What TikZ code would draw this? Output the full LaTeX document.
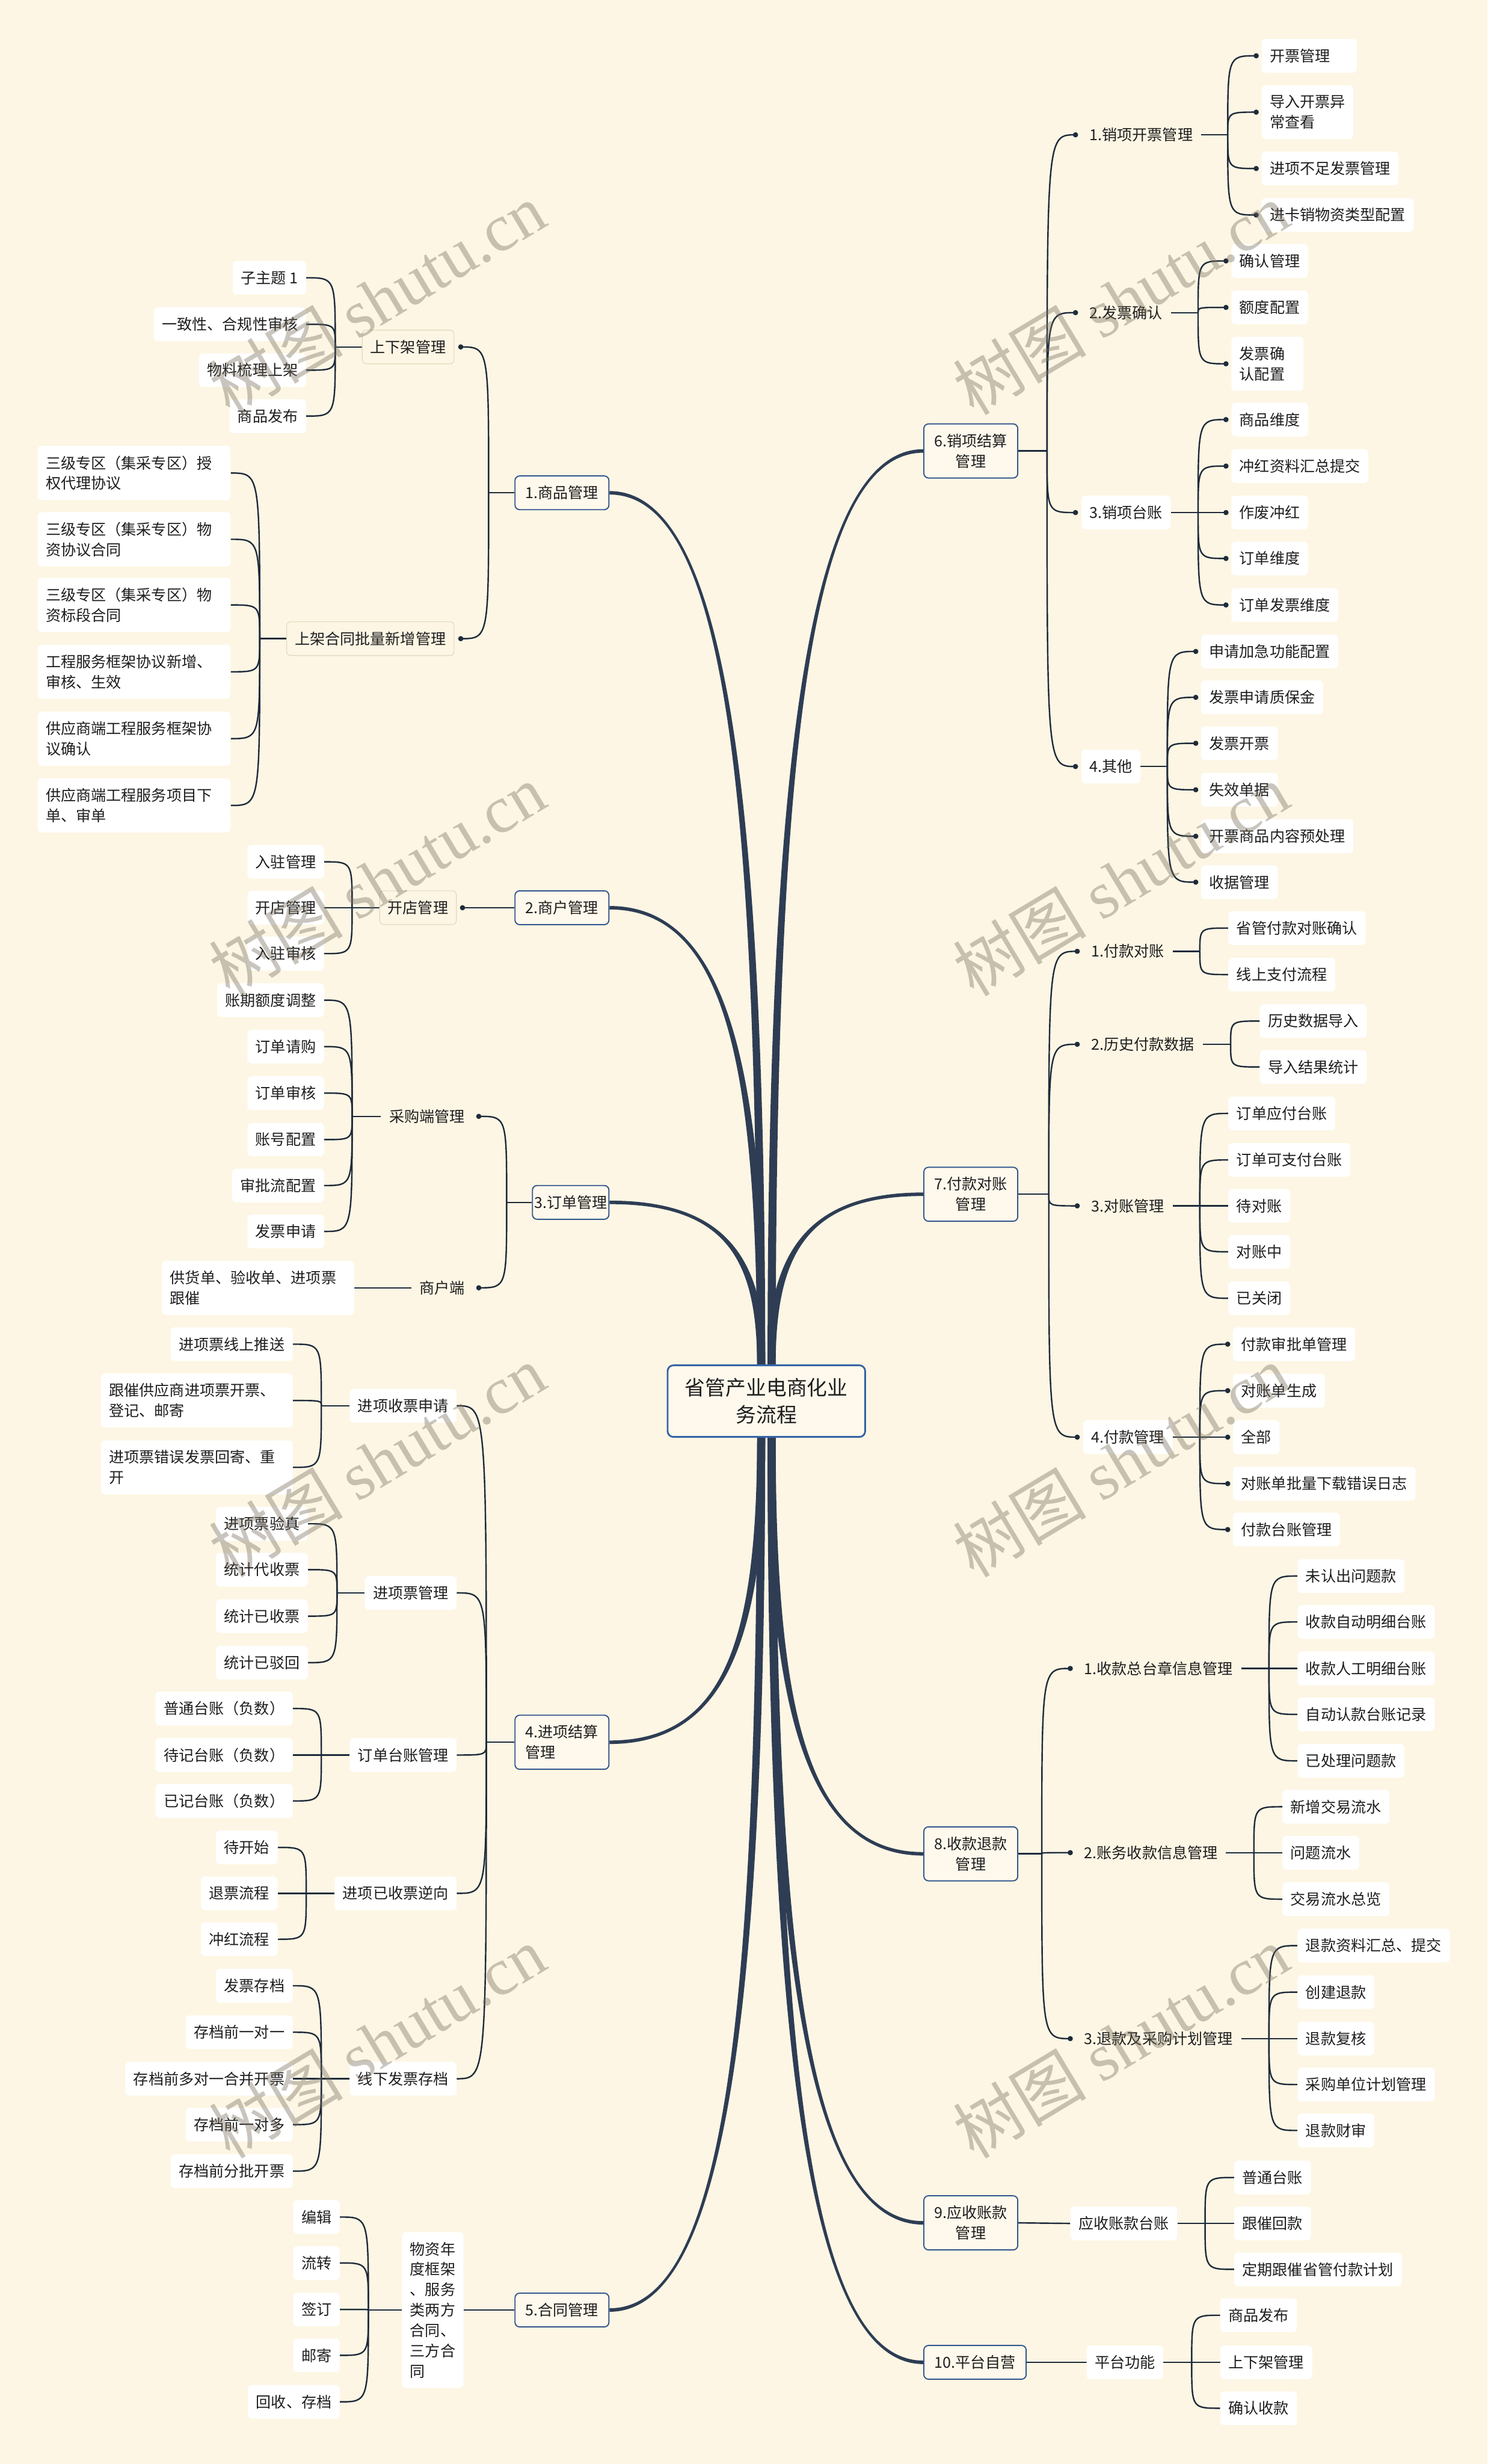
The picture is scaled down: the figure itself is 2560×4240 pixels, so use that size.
\documentclass[tikz,border=0pt]{standalone}
\usepackage{fontspec}
\setmainfont{Noto Sans CJK SC}
\newfontfamily\wmlat{Liberation Serif}
\usetikzlibrary{calc}
\pgfdeclarelayer{back}
\pgfdeclarelayer{lines}
\pgfsetlayers{back,lines,main}
\definecolor{bgc}{HTML}{FDF6E4}
\definecolor{lc}{HTML}{1F2B3B}
\definecolor{brc}{HTML}{2E3D54}
\definecolor{lvlb}{HTML}{35588F}
\definecolor{lvlf}{HTML}{FEF9EC}
\definecolor{ctrb}{HTML}{3563A8}
\definecolor{subb}{HTML}{E3D8BF}
\definecolor{txtc}{HTML}{1E1E1E}
\definecolor{wmc}{HTML}{786F5E}
\tikzset{
 base/.style={font=\fontsize{26}{35}\selectfont, text=txtc, inner xsep=14pt, inner ysep=17pt, align=left},
 leaf/.style={base, fill=white, rounded corners=7pt},
 plain/.style={base},
 sub/.style={base, fill=bgc, draw=subb, line width=1.2pt, rounded corners=7pt},
 lvl/.style={base, fill=lvlf, draw=lvlb, line width=2pt, rounded corners=8pt, inner xsep=18pt, align=center},
 ctrs/.style={font=\fontsize{35}{47}\selectfont, text=txtc, fill=lvlf, draw=ctrb, line width=3pt, rounded corners=10pt, inner xsep=30pt, inner ysep=22pt, align=center},
 ln/.style={draw=lc, line width=2.5pt},
 wm/.style={font=\fontsize{115}{115}\selectfont, text=wmc, opacity=0.4, rotate=31},
}
\newcommand\cvl[2]{\draw[ln] (#1) .. controls (#1 |- #2) and (#1 |- #2) .. (#2);}
\newcommand\mdot[1]{\fill[lc] (#1) circle[radius=4.5pt];}
\newcommand\thickbr[4]{%
 \fill[brc] let \p1=(#1), \p2=(#2) in
 (\x1,{\y1+(#3)*3pt}) .. controls ({\x1+0.75*\x2-0.75*\x1},{\y1+(#3)*3pt}) and ({\x2+(#4)*7pt},{\y1+0.33*\y2-0.33*\y1}) .. ({\x2+(#4)*7pt},\y2)
 -- ({\x2-(#4)*7pt},\y2) .. controls ({\x2-(#4)*7pt},{\y1+0.33*\y2-0.33*\y1}) and ({\x1+0.75*\x2-0.75*\x1},{\y1-(#3)*3pt}) .. (\x1,{\y1-(#3)*3pt}) -- cycle;}
\begin{document}
\begin{tikzpicture}[x=1pt,y=-1pt]
\begin{pgfonlayer}{back}
\fill[bgc] (0,0) rectangle (2560,4240);
\end{pgfonlayer}
\useasboundingbox (0,0) rectangle (2560,4240);

% ---------- centre ----------
\node[ctrs] (ctr) at (1319,2411) {省管产业电商化业\\务流程};
\coordinate (cTL) at ([xshift=-9pt]ctr.north);
\coordinate (cTR) at ([xshift=9pt]ctr.north);
\coordinate (cBL) at ([xshift=-9pt]ctr.south);
\coordinate (cBR) at ([xshift=9pt]ctr.south);

% ---------- level 1 ----------
\node[lvl, anchor=east] (L1) at (1049,848) {1.商品管理};
\node[lvl, anchor=east] (L2) at (1049,1562) {2.商户管理};
\node[lvl, anchor=east, inner xsep=3pt] (L3) at (1049,2069) {3.订单管理};
\node[lvl, anchor=east, align=left] (L4) at (1049,2998) {4.进项结算\\管理};
\node[lvl, anchor=east] (L5) at (1049,3975) {5.合同管理};
\node[lvl, anchor=west] (R6) at (1589,776) {6.销项结算\\管理};
\node[lvl, anchor=west] (R7) at (1589,2055) {7.付款对账\\管理};
\node[lvl, anchor=west] (R8) at (1589,3190) {8.收款退款\\管理};
\node[lvl, anchor=west] (R9) at (1589,3825) {9.应收账款\\管理};
\node[lvl, anchor=west] (R10) at (1589,4065) {10.平台自营};

% ---------- level 2 left ----------
\node[sub, anchor=east] (A1) at (782,597) {上下架管理};
\node[sub, anchor=east] (A2) at (782,1099) {上架合同批量新增管理};
\node[sub, anchor=east] (B1) at (786,1562) {开店管理};
\node[plain, anchor=east] (C1) at (814,1921) {采购端管理};
\node[plain, anchor=east] (C2) at (814,2216) {商户端};
\node[leaf, anchor=east] (D1) at (786,2419) {进项收票申请};
\node[leaf, anchor=east] (D2) at (786,2741) {进项票管理};
\node[leaf, anchor=east] (D3) at (786,3020) {订单台账管理};
\node[leaf, anchor=east] (D4) at (786,3258) {进项已收票逆向};
\node[leaf, anchor=east] (D5) at (786,3577) {线下发票存档};
\node[leaf, anchor=east] (E1) at (798,3975) {物资年\\度框架\\、服务\\类两方\\合同、\\三方合\\同};

% ---------- level 2 right ----------
\node[plain, anchor=west] (S1) at (1861,232) {1.销项开票管理};
\node[plain, anchor=west] (S2) at (1861,538) {2.发票确认};
\node[leaf, anchor=west] (S3) at (1861,882) {3.销项台账};
\node[leaf, anchor=west] (S4) at (1861,1319) {4.其他};
\node[plain, anchor=west] (T1) at (1864,1637) {1.付款对账};
\node[plain, anchor=west] (T2) at (1864,1797) {2.历史付款数据};
\node[plain, anchor=west] (T3) at (1864,2075) {3.对账管理};
\node[leaf, anchor=west] (T4) at (1864,2473) {4.付款管理};
\node[plain, anchor=west] (U1) at (1852,2871) {1.收款总台章信息管理};
\node[plain, anchor=west] (U2) at (1852,3188) {2.账务收款信息管理};
\node[plain, anchor=west] (U3) at (1852,3508) {3.退款及采购计划管理};
\node[leaf, anchor=west] (V1) at (1842,3826) {应收账款台账};
\node[leaf, anchor=west] (W1) at (1870,4065) {平台功能};

% ---------- leaves left ----------
\node[leaf, anchor=east] (a11) at (527,478) {子主题 1};
\node[leaf, anchor=east] (a12) at (527,558) {一致性、合规性审核};
\node[leaf, anchor=east] (a13) at (527,637) {物料梳理上架};
\node[leaf, anchor=east] (a14) at (527,716) {商品发布};
\node[leaf, anchor=east, text width=304pt] (a21) at (397,814) {三级专区（集采专区）授\\权代理协议};
\node[leaf, anchor=east, text width=304pt] (a22) at (397,928) {三级专区（集采专区）物\\资协议合同};
\node[leaf, anchor=east, text width=304pt] (a23) at (397,1041) {三级专区（集采专区）物\\资标段合同};
\node[leaf, anchor=east, text width=304pt] (a24) at (397,1156) {工程服务框架协议新增、\\审核、生效};
\node[leaf, anchor=east, text width=304pt] (a25) at (397,1271) {供应商端工程服务框架协\\议确认};
\node[leaf, anchor=east, text width=304pt] (a26) at (397,1386) {供应商端工程服务项目下\\单、审单};
\node[leaf, anchor=east] (b11) at (558,1483) {入驻管理};
\node[leaf, anchor=east] (b12) at (558,1562) {开店管理};
\node[leaf, anchor=east] (b13) at (558,1641) {入驻审核};
\node[leaf, anchor=east] (c11) at (558,1721) {账期额度调整};
\node[leaf, anchor=east] (c12) at (558,1801) {订单请购};
\node[leaf, anchor=east] (c13) at (558,1881) {订单审核};
\node[leaf, anchor=east] (c14) at (558,1961) {账号配置};
\node[leaf, anchor=east] (c15) at (558,2040) {审批流配置};
\node[leaf, anchor=east] (c16) at (558,2119) {发票申请};
\node[leaf, anchor=east, text width=303pt] (c21) at (610,2216) {供货单、验收单、进项票\\跟催};
\node[leaf, anchor=east] (d11) at (504,2313) {进项票线上推送};
\node[leaf, anchor=east, text width=302pt] (d12) at (504,2410) {跟催供应商进项票开票、\\登记、邮寄};
\node[leaf, anchor=east, text width=302pt] (d13) at (504,2525) {进项票错误发票回寄、重\\开};
\node[leaf, anchor=east] (d21) at (530,2622) {进项票验真};
\node[leaf, anchor=east] (d22) at (530,2701) {统计代收票};
\node[leaf, anchor=east] (d23) at (530,2781) {统计已收票};
\node[leaf, anchor=east] (d24) at (530,2861) {统计已驳回};
\node[leaf, anchor=east] (d31) at (504,2940) {普通台账（负数）};
\node[leaf, anchor=east] (d32) at (504,3020) {待记台账（负数）};
\node[leaf, anchor=east] (d33) at (504,3099) {已记台账（负数）};
\node[leaf, anchor=east] (d41) at (478,3179) {待开始};
\node[leaf, anchor=east] (d42) at (478,3258) {退票流程};
\node[leaf, anchor=east] (d43) at (478,3337) {冲红流程};
\node[leaf, anchor=east] (d51) at (504,3417) {发票存档};
\node[leaf, anchor=east] (d52) at (504,3497) {存档前一对一};
\node[leaf, anchor=east] (d53) at (504,3577) {存档前多对一合并开票};
\node[leaf, anchor=east] (d54) at (504,3656) {存档前一对多};
\node[leaf, anchor=east] (d55) at (504,3736) {存档前分批开票};
\node[leaf, anchor=east] (e11) at (585,3815) {编辑};
\node[leaf, anchor=east] (e12) at (585,3894) {流转};
\node[leaf, anchor=east] (e13) at (585,3974) {签订};
\node[leaf, anchor=east] (e14) at (585,4053) {邮寄};
\node[leaf, anchor=east] (e15) at (585,4133) {回收、存档};

% ---------- leaves right ----------
\node[leaf, anchor=west, text width=136pt] (s11) at (2171,96) {开票管理};
\node[leaf, anchor=west] (s12) at (2171,193) {导入开票异\\常查看};
\node[leaf, anchor=west] (s13) at (2171,290) {进项不足发票管理};
\node[leaf, anchor=west] (s14) at (2171,370) {进卡销物资类型配置};
\node[leaf, anchor=west] (s21) at (2119,449) {确认管理};
\node[leaf, anchor=west] (s22) at (2119,529) {额度配置};
\node[leaf, anchor=west, text width=96pt] (s23) at (2119,626) {发票确\\认配置};
\node[leaf, anchor=west] (s31) at (2119,722) {商品维度};
\node[leaf, anchor=west] (s32) at (2119,802) {冲红资料汇总提交};
\node[leaf, anchor=west] (s33) at (2119,882) {作废冲红};
\node[leaf, anchor=west] (s34) at (2119,961) {订单维度};
\node[leaf, anchor=west] (s35) at (2119,1041) {订单发票维度};
\node[leaf, anchor=west] (s41) at (2067,1121) {申请加急功能配置};
\node[leaf, anchor=west] (s42) at (2067,1200) {发票申请质保金};
\node[leaf, anchor=west] (s43) at (2067,1279) {发票开票};
\node[leaf, anchor=west] (s44) at (2067,1359) {失效单据};
\node[leaf, anchor=west] (s45) at (2067,1439) {开票商品内容预处理};
\node[leaf, anchor=west] (s46) at (2067,1518) {收据管理};
\node[leaf, anchor=west] (t11) at (2114,1597) {省管付款对账确认};
\node[leaf, anchor=west] (t12) at (2114,1677) {线上支付流程};
\node[leaf, anchor=west] (t21) at (2168,1757) {历史数据导入};
\node[leaf, anchor=west] (t22) at (2168,1836) {导入结果统计};
\node[leaf, anchor=west] (t31) at (2114,1916) {订单应付台账};
\node[leaf, anchor=west] (t32) at (2114,1996) {订单可支付台账};
\node[leaf, anchor=west] (t33) at (2114,2075) {待对账};
\node[leaf, anchor=west] (t34) at (2114,2154) {对账中};
\node[leaf, anchor=west] (t35) at (2114,2234) {已关闭};
\node[leaf, anchor=west] (t41) at (2122,2313) {付款审批单管理};
\node[leaf, anchor=west] (t42) at (2122,2393) {对账单生成};
\node[leaf, anchor=west] (t43) at (2122,2473) {全部};
\node[leaf, anchor=west] (t44) at (2122,2553) {对账单批量下载错误日志};
\node[leaf, anchor=west] (t45) at (2122,2632) {付款台账管理};
\node[leaf, anchor=west] (u11) at (2233,2712) {未认出问题款};
\node[leaf, anchor=west] (u12) at (2233,2791) {收款自动明细台账};
\node[leaf, anchor=west] (u13) at (2233,2871) {收款人工明细台账};
\node[leaf, anchor=west] (u14) at (2233,2950) {自动认款台账记录};
\node[leaf, anchor=west] (u15) at (2233,3030) {已处理问题款};
\node[leaf, anchor=west] (u21) at (2207,3109) {新增交易流水};
\node[leaf, anchor=west] (u22) at (2207,3188) {问题流水};
\node[leaf, anchor=west] (u23) at (2207,3268) {交易流水总览};
\node[leaf, anchor=west] (u31) at (2233,3348) {退款资料汇总、提交};
\node[leaf, anchor=west] (u32) at (2233,3428) {创建退款};
\node[leaf, anchor=west] (u33) at (2233,3508) {退款复核};
\node[leaf, anchor=west] (u34) at (2233,3587) {采购单位计划管理};
\node[leaf, anchor=west] (u35) at (2233,3666) {退款财审};
\node[leaf, anchor=west] (v11) at (2124,3747) {普通台账};
\node[leaf, anchor=west] (v12) at (2124,3826) {跟催回款};
\node[leaf, anchor=west] (v13) at (2124,3905) {定期跟催省管付款计划};
\node[leaf, anchor=west] (w11) at (2100,3984) {商品发布};
\node[leaf, anchor=west] (w12) at (2100,4065) {上下架管理};
\node[leaf, anchor=west] (w13) at (2100,4144) {确认收款};

% ---------- dot coordinates ----------
\coordinate (dA1) at ([xshift=11pt]A1.east);
\coordinate (dA2) at ([xshift=11pt]A2.east);
\coordinate (dB1) at ([xshift=10pt]B1.east);
\coordinate (dC1) at ([xshift=10pt]C1.east);
\coordinate (dC2) at ([xshift=10pt]C2.east);
\foreach \n in {S1,S2,S3,S4,T1,T2,T3,T4,U1,U2,U3} {\coordinate (d\n) at ([xshift=-10pt]\n.west);}
\foreach \n in {s11,s12,s13,s14,s21,s22,s23,s31,s32,s33,s34,s35,s41,s42,s43,s44,s45,s46,t41,t42,t43,t44,t45} {\coordinate (d\n) at ([xshift=-9pt]\n.west);}

% ---------- trunk points ----------
\coordinate (L1t) at (841,848);
\coordinate (L3t) at (872,2069);
\coordinate (L4t) at (837,2998);
\coordinate (R6t) at (1802,776);
\coordinate (R7t) at (1805,2055);
\coordinate (R8t) at (1793,3190);
\coordinate (A1t) at (577,597);
\coordinate (A2t) at (447,1099);
\coordinate (B1t) at (606,1562);
\coordinate (C1t) at (606,1921);
\coordinate (D1t) at (553,2419);
\coordinate (D2t) at (580,2741);
\coordinate (D3t) at (553,3020);
\coordinate (D4t) at (527,3258);
\coordinate (D5t) at (553,3577);
\coordinate (E1t) at (634,3975);
\coordinate (S1t) at (2113,232);
\coordinate (S2t) at (2062,538);
\coordinate (S3t) at (2062,882);
\coordinate (S4t) at (2009,1319);
\coordinate (T1t) at (2065,1637);
\coordinate (T2t) at (2118,1797);
\coordinate (T3t) at (2065,2075);
\coordinate (T4t) at (2065,2473);
\coordinate (U1t) at (2184,2871);
\coordinate (U2t) at (2158,3188);
\coordinate (U3t) at (2184,3508);
\coordinate (V1t) at (2074,3826);
\coordinate (W1t) at (2051,4065);

\begin{pgfonlayer}{lines}
% thick branches from the centre
\thickbr{L1.east}{cTL}{1}{1}
\thickbr{L2.east}{cTL}{1}{1}
\thickbr{L3.east}{cTL}{1}{1}
\thickbr{L4.east}{cBL}{-1}{1}
\thickbr{L5.east}{cBL}{-1}{1}
\thickbr{R6.west}{cTR}{1}{-1}
\thickbr{R7.west}{cTR}{1}{-1}
\thickbr{R8.west}{cBR}{-1}{-1}
\thickbr{R9.west}{cBR}{-1}{-1}
\thickbr{R10.west}{cBR}{-1}{-1}

% level 1 -> level 2
\draw[ln] (L1.west) -- (L1t); \cvl{L1t}{dA1} \cvl{L1t}{dA2}
\draw[ln] (L2.west) -- (dB1);
\draw[ln] (L3.west) -- (L3t); \cvl{L3t}{dC1} \cvl{L3t}{dC2}
\draw[ln] (L4.west) -- (L4t);
\foreach \c in {D1,D2,D3,D4,D5} {\cvl{L4t}{\c.east}}
\draw[ln] (L5.west) -- (E1.east);
\draw[ln] (R6.east) -- (R6t);
\foreach \c in {S1,S2,S3,S4} {\cvl{R6t}{d\c}}
\draw[ln] (R7.east) -- (R7t);
\foreach \c in {T1,T2,T3,T4} {\cvl{R7t}{d\c}}
\draw[ln] (R8.east) -- (R8t);
\foreach \c in {U1,U2,U3} {\cvl{R8t}{d\c}}
\draw[ln] (R9.east) -- (V1.west);
\draw[ln] (R10.east) -- (W1.west);

% level 2 -> leaves (left)
\draw[ln] (A1.west) -- (A1t); \foreach \c in {a11,a12,a13,a14} {\cvl{A1t}{\c.east}}
\draw[ln] (A2.west) -- (A2t); \foreach \c in {a21,a22,a23,a24,a25,a26} {\cvl{A2t}{\c.east}}
\draw[ln] (B1.west) -- (B1t); \foreach \c in {b11,b12,b13} {\cvl{B1t}{\c.east}}
\draw[ln] (C1.west) -- (C1t); \foreach \c in {c11,c12,c13,c14,c15,c16} {\cvl{C1t}{\c.east}}
\draw[ln] (C2.west) -- (c21.east);
\draw[ln] (D1.west) -- (D1t); \foreach \c in {d11,d12,d13} {\cvl{D1t}{\c.east}}
\draw[ln] (D2.west) -- (D2t); \foreach \c in {d21,d22,d23,d24} {\cvl{D2t}{\c.east}}
\draw[ln] (D3.west) -- (D3t); \foreach \c in {d31,d32,d33} {\cvl{D3t}{\c.east}}
\draw[ln] (D4.west) -- (D4t); \foreach \c in {d41,d42,d43} {\cvl{D4t}{\c.east}}
\draw[ln] (D5.west) -- (D5t); \foreach \c in {d51,d52,d53,d54,d55} {\cvl{D5t}{\c.east}}
\draw[ln] (E1.west) -- (E1t); \foreach \c in {e11,e12,e13,e14,e15} {\cvl{E1t}{\c.east}}

% level 2 -> leaves (right)
\draw[ln] (S1.east) -- (S1t); \foreach \c in {s11,s12,s13,s14} {\cvl{S1t}{d\c}}
\draw[ln] (S2.east) -- (S2t); \foreach \c in {s21,s22,s23} {\cvl{S2t}{d\c}}
\draw[ln] (S3.east) -- (S3t); \foreach \c in {s31,s32,s33,s34,s35} {\cvl{S3t}{d\c}}
\draw[ln] (S4.east) -- (S4t); \foreach \c in {s41,s42,s43,s44,s45,s46} {\cvl{S4t}{d\c}}
\draw[ln] (T1.east) -- (T1t); \foreach \c in {t11,t12} {\cvl{T1t}{\c.west}}
\draw[ln] (T2.east) -- (T2t); \foreach \c in {t21,t22} {\cvl{T2t}{\c.west}}
\draw[ln] (T3.east) -- (T3t); \foreach \c in {t31,t32,t33,t34,t35} {\cvl{T3t}{\c.west}}
\draw[ln] (T4.east) -- (T4t); \foreach \c in {t41,t42,t43,t44,t45} {\cvl{T4t}{d\c}}
\draw[ln] (U1.east) -- (U1t); \foreach \c in {u11,u12,u13,u14,u15} {\cvl{U1t}{\c.west}}
\draw[ln] (U2.east) -- (U2t); \foreach \c in {u21,u22,u23} {\cvl{U2t}{\c.west}}
\draw[ln] (U3.east) -- (U3t); \foreach \c in {u31,u32,u33,u34,u35} {\cvl{U3t}{\c.west}}
\draw[ln] (V1.east) -- (V1t); \foreach \c in {v11,v12,v13} {\cvl{V1t}{\c.west}}
\draw[ln] (W1.east) -- (W1t); \foreach \c in {w11,w12,w13} {\cvl{W1t}{\c.west}}
\end{pgfonlayer}

% dots
\foreach \c in {dA1,dA2,dB1,dC1,dC2} {\mdot{\c}}
\foreach \c in {S1,S2,S3,S4,T1,T2,T3,T4,U1,U2,U3,s11,s12,s13,s14,s21,s22,s23,s31,s32,s33,s34,s35,s41,s42,s43,s44,s45,s46,t41,t42,t43,t44,t45} {\mdot{d\c}}

% watermarks
\node[wm] (wm1) at (649,514) {树图 {\wmlat shutu.cn}};
\node[wm] (wm2) at (1929,514) {树图 {\wmlat shutu.cn}};
\node[wm] (wm3) at (649,1514) {树图 {\wmlat shutu.cn}};
\node[wm] (wm4) at (1929,1514) {树图 {\wmlat shutu.cn}};
\node[wm] (wm5) at (649,2514) {树图 {\wmlat shutu.cn}};
\node[wm] (wm6) at (1929,2514) {树图 {\wmlat shutu.cn}};
\node[wm] (wm7) at (649,3514) {树图 {\wmlat shutu.cn}};
\node[wm] (wm8) at (1929,3514) {树图 {\wmlat shutu.cn}};
\end{tikzpicture}
\end{document}
